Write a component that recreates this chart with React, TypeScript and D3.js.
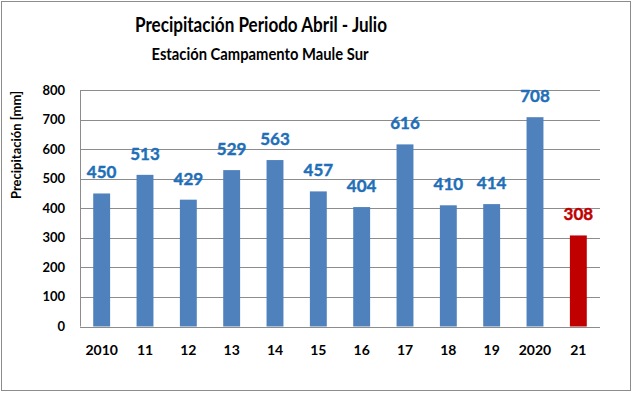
import {useEffect, useRef} from "react"

import * as d3 from "d3"

const categories = ["2010", "11", "12", "13", "14", "15", "16", "17", "18", "19", "2020", "21"]
const values = [450, 513, 429, 529, 563, 457, 404, 616, 410, 414, 708, 308]
const yTicks = [0, 100, 200, 300, 400, 500, 600, 700, 800]

const width = 633
const height = 393
const plot = {left: 80, right: 600, top: 90, bottom: 326.5}
const font = "Lato, 'Open Sans', sans-serif"

const App = (): JSX.Element => {
  const ref = useRef<SVGSVGElement>(null)

  useEffect(() => {
    const svg = d3.select(ref.current)
    svg.selectAll("*").remove()

    svg
      .append("rect")
      .attr("x", 0)
      .attr("y", 0)
      .attr("width", width)
      .attr("height", height)
      .attr("fill", "white")

    svg
      .append("rect")
      .attr("x", 1.5)
      .attr("y", 1.5)
      .attr("width", 629)
      .attr("height", 389)
      .attr("fill", "none")
      .attr("stroke", "#8c8c8c")

    const x = d3
      .scaleBand()
      .domain(categories)
      .range([plot.left, plot.right])
      .paddingInner(0.61)
      .paddingOuter(0.305)

    const y = d3.scaleLinear().domain([0, 800]).range([plot.bottom, plot.top])

    // gridlines
    svg
      .append("g")
      .selectAll("line")
      .data(yTicks)
      .join("line")
      .attr("x1", plot.left)
      .attr("x2", plot.right)
      .attr("y1", (d) => Math.round(y(d)) + 0.5)
      .attr("y2", (d) => Math.round(y(d)) + 0.5)
      .attr("stroke", "#8c8c8c")

    svg
      .append("line")
      .attr("x1", plot.left + 0.5)
      .attr("x2", plot.left + 0.5)
      .attr("y1", y(800))
      .attr("y2", y(0))
      .attr("stroke", "#8c8c8c")

    // y tick labels
    svg
      .append("g")
      .selectAll("text")
      .data(yTicks)
      .join("text")
      .attr("x", 65)
      .attr("y", (d) => y(d))
      .attr("dy", "0.35em")
      .attr("text-anchor", "end")
      .attr("font-family", font)
      .attr("font-weight", "bold")
      .attr("font-size", 13)
      .attr("fill", "#000")
      .text((d) => d)

    // bars
    svg
      .append("g")
      .selectAll("rect")
      .data(values)
      .join("rect")
      .attr("x", (_, i) => x(categories[i]) as number)
      .attr("y", (d) => y(d))
      .attr("width", x.bandwidth())
      .attr("height", (d) => y(0) - y(d))
      .attr("fill", (_, i) => (i === values.length - 1 ? "#c00000" : "#4f81bd"))

    // value labels
    svg
      .append("g")
      .selectAll("text")
      .data(values)
      .join("text")
      .attr("x", (_, i) => (x(categories[i]) as number) + x.bandwidth() / 2)
      .attr("y", (d) => y(d) - 15)
      .attr("text-anchor", "middle")
      .attr("font-family", font)
      .attr("font-weight", "bold")
      .attr("font-size", 17)
      .attr("fill", (_, i) => (i === values.length - 1 ? "#c00000" : "#1f6fb8"))
      .attr("stroke", (_, i) => (i === values.length - 1 ? "#c00000" : "#1f6fb8"))
      .attr("stroke-width", 0.4)
      .text((d) => d)

    // x labels
    svg
      .append("g")
      .selectAll("text")
      .data(categories)
      .join("text")
      .attr("x", (d) => (x(d) as number) + x.bandwidth() / 2)
      .attr("y", 355)
      .attr("text-anchor", "middle")
      .attr("font-family", font)
      .attr("font-weight", "bold")
      .attr("font-size", 14)
      .attr("fill", "#000")
      .text((d) => d)

    svg
      .append("text")
      .attr("transform", "translate(21,145) rotate(-90)")
      .attr("text-anchor", "middle")
      .attr("font-family", font)
      .attr("font-weight", "bold")
      .attr("font-size", 13)
      .attr("fill", "#000")
      .text("Precipitación [mm]")

    svg
      .append("text")
      .attr("x", 261)
      .attr("y", 32)
      .attr("text-anchor", "middle")
      .attr("font-family", font)
      .attr("font-weight", "bold")
      .attr("font-size", 20.5)
      .attr("textLength", 252)
      .attr("lengthAdjust", "spacingAndGlyphs")
      .attr("fill", "#000")
      .text("Precipitación  Periodo Abril - Julio")

    svg
      .append("text")
      .attr("x", 260)
      .attr("y", 59.5)
      .attr("text-anchor", "middle")
      .attr("font-family", font)
      .attr("font-weight", "bold")
      .attr("font-size", 17.5)
      .attr("textLength", 217)
      .attr("lengthAdjust", "spacingAndGlyphs")
      .attr("fill", "#000")
      .text("Estación Campamento  Maule Sur")
  }, [])

  return (
    <svg
      ref={ref}
      width={width}
      height={height}
      style={{position: "fixed", left: 0, top: 0}}
    />
  )
}

export default App
